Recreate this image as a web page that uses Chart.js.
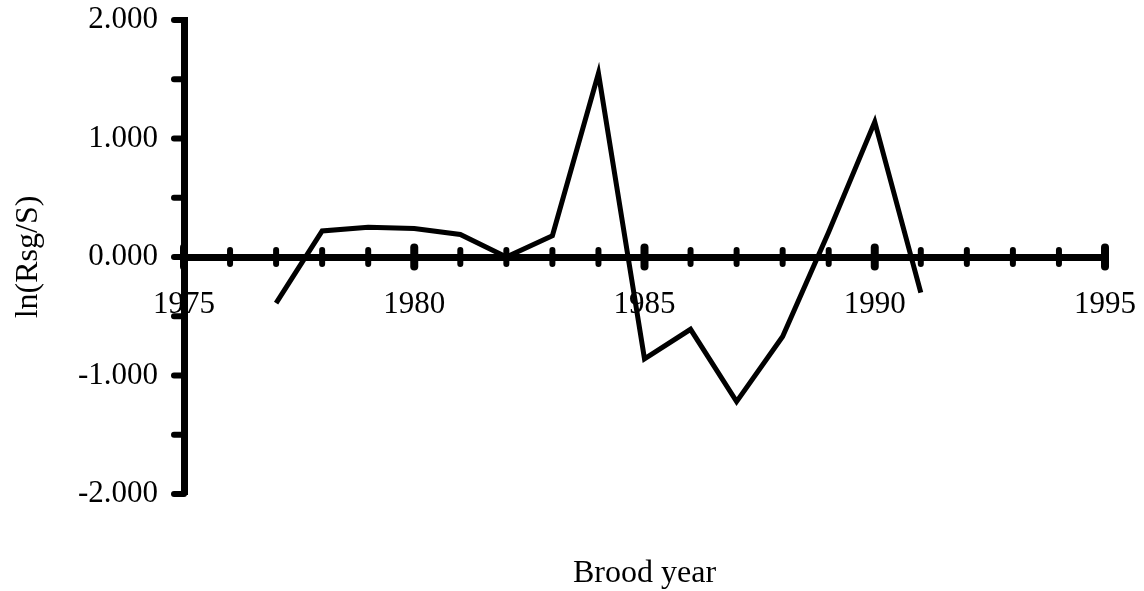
<!DOCTYPE html>
<html lang="en">
<head>
<meta charset="UTF-8">
<title>ln(Rsg/S) by brood year</title>
<script src="https://cdn.jsdelivr.net/npm/chart.js"></script>
<style>
  html, body { margin: 0; padding: 0; background: #fff; }
</style>
</head>
<body>
<canvas id="chart" width="1144" height="591"></canvas>
<script>
// brood years and ln(Rsg/S)
const years  = [1977, 1978, 1979, 1980, 1981, 1982, 1983, 1984, 1985, 1986, 1987, 1988, 1989, 1990, 1991];
const lnRsgS = [-0.39, 0.22, 0.25, 0.24, 0.19, 0.00, 0.18, 1.55, -0.86, -0.61, -1.22, -0.67, 0.21, 1.14, -0.30];

const xTickLabels = [1975, 1980, 1985, 1990, 1995];
const yTickLabels = [-2, -1, 0, 1, 2];

const serif = 'Liberation Serif';

// tick marks that cross the axis, drawn through the scales
const axisTicks = {
    id: 'axisTicks',
    afterDatasetsDraw(chart) {
        const { ctx, scales: { x, y } } = chart;
        const y0 = y.getPixelForValue(0);
        ctx.save();
        ctx.strokeStyle = '#000';
        ctx.lineCap = 'round';
        x.ticks.forEach(t => {
            const px = x.getPixelForValue(t.value);
            const major = xTickLabels.includes(t.value);
            const h = major ? 9.5 : 7;
            ctx.lineWidth = major ? 8 : 6;
            ctx.beginPath();
            ctx.moveTo(px, y0 - h);
            ctx.lineTo(px, y0 + h);
            ctx.stroke();
        });
        ctx.lineWidth = 6;
        y.ticks.forEach(t => {
            const py = y.getPixelForValue(t.value);
            ctx.beginPath();
            ctx.moveTo(y.right - 10, py);
            ctx.lineTo(y.right, py);
            ctx.stroke();
        });
        ctx.restore();
    }
};

new Chart(document.getElementById('chart'), {
    type: 'line',
    data: {
        datasets: [{
            data: years.map((yr, i) => ({ x: yr, y: lnRsgS[i] })),
            borderColor: '#000',
            borderWidth: 5,
            pointRadius: 0,
            tension: 0,
            fill: false
        }]
    },
    options: {
        responsive: false,
        animation: false,
        layout: { padding: { top: 20, right: 39, bottom: 0, left: 0 } },
        plugins: { legend: { display: false }, tooltip: { enabled: false } },
        scales: {
            x: {
                type: 'linear',
                position: { y: 0 },
                min: 1975, max: 1995,
                ticks: {
                    stepSize: 1, autoSkip: false, maxRotation: 0, padding: 0,
                    color: '#000', font: { family: serif, size: 31 },
                    callback: v => xTickLabels.includes(v) ? String(v) : ''
                },
                // invisible tick length only pushes the labels down
                grid: { drawOnChartArea: false, tickLength: 29, tickColor: 'transparent' },
                border: { width: 7, color: '#000' }
            },
            xTitle: {
                type: 'linear',
                position: 'bottom',
                min: 1975, max: 1995,
                ticks: { display: false },
                grid: { display: false },
                border: { display: false },
                title: {
                    display: true, text: 'Brood year', color: '#000', padding: 0,
                    font: { family: serif, size: 32, lineHeight: 1.1 }
                },
                afterFit(s) { s.height = 97; }
            },
            y: {
                min: -2, max: 2,
                ticks: {
                    stepSize: 0.5, padding: 0,
                    color: '#000', font: { family: serif, size: 31 },
                    callback: v => yTickLabels.includes(v) ? v.toFixed(3) : ''
                },
                grid: { drawOnChartArea: false, tickLength: 26, tickColor: 'transparent' },
                border: { width: 7, color: '#000' },
                title: {
                    display: true, text: 'ln(Rsg/S)', color: '#000',
                    padding: { top: 9, bottom: 0 },
                    font: { family: serif, size: 32 }
                },
                afterFit(s) { s.width = 184; }
            }
        }
    },
    plugins: [axisTicks]
});
</script>
</body>
</html>
